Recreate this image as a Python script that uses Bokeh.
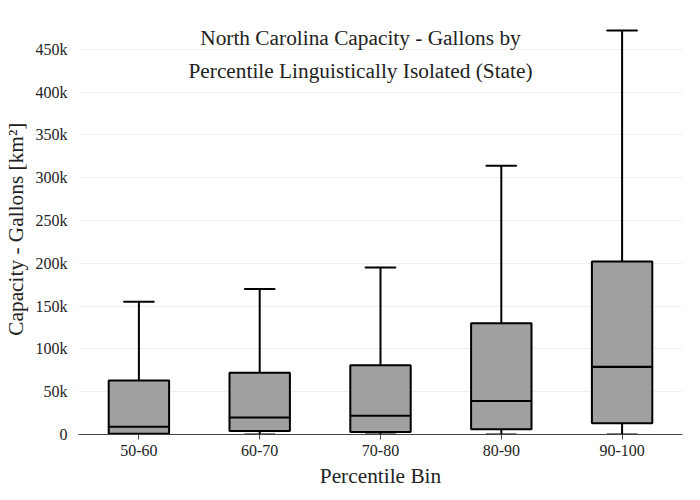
from bokeh.plotting import figure
from bokeh.models import ColumnDataSource, NumeralTickFormatter, SingleIntervalTicker, Label
from bokeh.embed import file_html
from bokeh.resources import INLINE

bins = ["50-60", "60-70", "70-80", "80-90", "90-100"]
lower = [0, 0, 0, 0, 0]
q1 = [1000, 4000, 3000, 6000, 13000]
median = [9000, 20000, 22000, 39000, 79000]
q3 = [63000, 72000, 81000, 130000, 202000]
upper = [155000, 170000, 195000, 314000, 472000]
title_lines = ["North Carolina Capacity - Gallons by",
               "Percentile Linguistically Isolated (State)"]

FONT = "Liberation Serif"

src = ColumnDataSource(data=dict(bins=bins, lower=lower, q1=q1, median=median, q3=q3, upper=upper))

p = figure(x_range=bins, y_range=(0, 486000), width=684, height=490,
           output_backend="svg", toolbar_location=None,
           x_axis_label="Percentile Bin", y_axis_label="Capacity - Gallons  [km²]")
p.min_border_left = 10
p.min_border_top = 18
p.min_border_right = 2
p.outline_line_color = None

# whiskers
p.segment(x0="bins", y0="q3", x1="bins", y1="upper", source=src, line_color="black", line_width=2)
p.segment(x0="bins", y0="lower", x1="bins", y1="q1", source=src, line_color="black", line_width=2)
p.rect(x="bins", y="upper", width=0.25, height=0.01, height_units="screen", source=src,
       line_color="black", line_width=2, fill_color=None)
p.rect(x="bins", y="lower", width=0.25, height=0.01, height_units="screen", source=src,
       line_color="black", line_width=2, fill_color=None)
# boxes
p.vbar(x="bins", bottom="q1", top="q3", width=0.5, source=src,
       fill_color="#a0a0a0", line_color="black", line_width=2)
p.rect(x="bins", y="median", width=0.5, height=0.01, height_units="screen", source=src,
       line_color="black", line_width=2, fill_color=None)

p.yaxis.ticker = SingleIntervalTicker(interval=50000)
p.yaxis.formatter = NumeralTickFormatter(format="0a")
p.xgrid.grid_line_color = None
p.ygrid.grid_line_color = "#eeeeee"
p.yaxis.axis_line_color = None
p.yaxis.major_tick_line_color = None
p.yaxis.minor_tick_line_color = None
p.xaxis.axis_line_color = "#444444"
p.xaxis.major_tick_line_color = "#444444"
p.xaxis.major_tick_out = 5
p.xaxis.major_tick_in = 0
for ax in (p.xaxis, p.yaxis):
    ax.major_label_text_font = FONT
    ax.major_label_text_font_size = "12pt"
    ax.major_label_text_color = "#222222"
    ax.axis_label_text_font = FONT
    ax.axis_label_text_font_size = "16pt"
    ax.axis_label_text_font_style = "normal"
    ax.axis_label_text_color = "#222222"

for i, line in enumerate(title_lines):
    p.add_layout(Label(x=282, y=463000 - i * 38000, x_units="screen",
                       text=line, text_font=FONT, text_font_size="16pt", text_align="center",
                       text_baseline="middle", text_color="#222222"))

open("out.html", "w").write(file_html(p, INLINE))
